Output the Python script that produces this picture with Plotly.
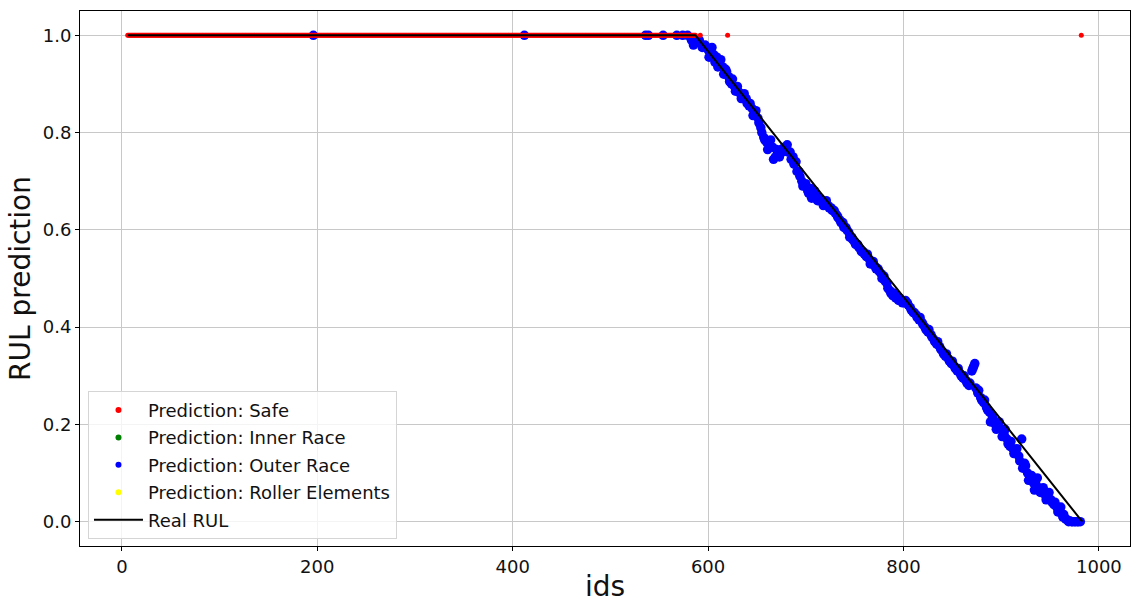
import plotly.graph_objects as go

# Sample ids where the model predicts "Outer Race" while RUL is still 1.0
outer_flat_ids = [196, 412, 536, 539, 554, 568, 574, 579]

# "Safe" predictions (all at RUL 1.0): consecutive ids of the healthy phase plus late outliers
safe_extra_ids = [592, 620, 982]
safe_ids = [i for i in range(6, 588) if i not in outer_flat_ids] + safe_extra_ids
safe_vals = [1.0] * len(safe_ids)

# "Outer Race" predictions during degradation (first pass of ids)
outer_deg_ids = [
    583, 585, 588, 591, 594, 597, 600, 603, 606, 609, 612, 615, 618, 621, 624, 627,
    630, 633, 636, 639, 642, 645, 648, 651, 654, 657, 660, 663, 666, 669, 672, 675,
    678, 681, 684, 687, 690, 693, 696, 699, 702, 705, 708, 711, 714, 717, 720, 723,
    726, 729, 732, 735, 738, 741, 744, 747, 750, 753, 756, 759, 762, 765, 768, 771,
    774, 777, 780, 783, 786, 789, 792, 795, 798, 801, 804, 807, 810, 813, 816, 819,
    822, 825, 828, 831, 834, 837, 840, 843, 846, 849, 852, 855, 858, 861, 864, 867,
    870, 872, 873, 876, 879, 882, 885, 888, 891, 894, 897, 900, 903, 906, 909, 912,
    915, 918, 921, 924, 927, 930, 933, 936, 939, 942, 945, 948, 951, 954, 957, 960,
    963, 966, 969, 972, 975, 978, 981,
]
outer_deg_vals = [
    0.99, 0.98, 0.985, 0.99, 0.975, 0.98, 0.97, 0.965, 0.96, 0.955, 0.94, 0.935, 0.93, 0.915, 0.90, 0.895,
    0.895, 0.88, 0.87, 0.87, 0.855, 0.85, 0.84, 0.83, 0.81, 0.79, 0.78, 0.775, 0.77, 0.75, 0.76, 0.765,
    0.77, 0.775, 0.76, 0.75, 0.74, 0.72, 0.70, 0.69, 0.68, 0.685, 0.675, 0.67, 0.66, 0.66, 0.655, 0.65,
    0.645, 0.64, 0.63, 0.62, 0.615, 0.605, 0.595, 0.585, 0.575, 0.57, 0.56, 0.555, 0.545, 0.54, 0.53, 0.525,
    0.52, 0.51, 0.505, 0.49, 0.475, 0.465, 0.46, 0.455, 0.455, 0.45, 0.45, 0.44, 0.43, 0.425, 0.415, 0.41,
    0.40, 0.39, 0.385, 0.375, 0.365, 0.36, 0.35, 0.34, 0.335, 0.325, 0.32, 0.31, 0.305, 0.295, 0.29, 0.28,
    0.31, 0.32, 0.325, 0.265, 0.255, 0.245, 0.235, 0.225, 0.215, 0.20, 0.195, 0.19, 0.18, 0.17, 0.155, 0.15,
    0.14, 0.135, 0.17, 0.12, 0.10, 0.09, 0.08, 0.075, 0.065, 0.06, 0.055, 0.05, 0.045, 0.035, 0.03, 0.02,
    0.01, 0.005, 0.0, 0.0, 0.0, 0.0, 0.0,
]

# "Outer Race" predictions during degradation (interleaved ids)
outer_deg_ids_b = [
    601, 604, 607, 610, 613, 616, 619, 622, 625, 628, 631, 634, 637, 640, 643, 646,
    649, 652, 655, 658, 661, 664, 667, 670, 673, 676, 679, 682, 685, 688, 691, 694,
    697, 700, 703, 706, 709, 712, 715, 718, 721, 724, 727, 730, 733, 736, 739, 742,
    745, 748, 751, 754, 757, 760, 763, 766, 769, 772, 775, 778, 781, 784, 787, 790,
    793, 796, 799, 802, 805, 808, 811, 814, 817, 820, 823, 826, 829, 832, 835, 838,
    841, 844, 847, 850, 853, 856, 859, 862, 865, 868, 871, 874, 877, 880, 883, 886,
    889, 892, 895, 898, 901, 904, 907, 910, 913, 916, 919, 922, 925, 928, 931, 934,
    937, 940, 943, 946, 949, 952, 955, 958, 961, 964, 967, 970, 973, 976, 979,
]
outer_deg_vals_b = [
    0.955, 0.975, 0.945, 0.935, 0.95, 0.92, 0.925, 0.905, 0.91, 0.885, 0.885, 0.87, 0.88, 0.86, 0.86, 0.835,
    0.845, 0.82, 0.80, 0.785, 0.765, 0.785, 0.745, 0.765, 0.75, 0.76, 0.765, 0.76, 0.745, 0.735, 0.72, 0.71,
    0.69, 0.695, 0.675, 0.665, 0.68, 0.66, 0.665, 0.65, 0.66, 0.645, 0.64, 0.635, 0.625, 0.615, 0.605, 0.60,
    0.585, 0.58, 0.57, 0.565, 0.555, 0.55, 0.55, 0.53, 0.535, 0.52, 0.515, 0.50, 0.495, 0.48, 0.47, 0.47,
    0.465, 0.46, 0.45, 0.455, 0.445, 0.435, 0.43, 0.42, 0.42, 0.405, 0.395, 0.395, 0.38, 0.37, 0.37, 0.355,
    0.345, 0.345, 0.33, 0.33, 0.315, 0.315, 0.30, 0.30, 0.285, 0.285, 0.315, 0.275, 0.27, 0.25, 0.25, 0.23,
    0.205, 0.21, 0.19, 0.205, 0.175, 0.19, 0.16, 0.165, 0.14, 0.15, 0.125, 0.11, 0.115, 0.085, 0.095, 0.065,
    0.09, 0.06, 0.07, 0.045, 0.06, 0.04, 0.04, 0.02, 0.03, 0.015, 0.005, 0.002, 0.0, 0.0, 0.0,
]

outer_ids = outer_flat_ids + outer_deg_ids + outer_deg_ids_b
outer_vals = [1.0] * len(outer_flat_ids) + outer_deg_vals + outer_deg_vals_b

# Ground-truth RUL: flat at 1.0, then linear decay to 0
real_ids = [6, 587, 983]
real_vals = [1.0, 1.0, 0.0]

legend_entries = [
    ("Prediction: Safe", "red"),
    ("Prediction: Inner Race", "green"),
    ("Prediction: Outer Race", "blue"),
    ("Prediction: Roller Elements", "yellow"),
]

FONT = "DejaVu Sans"
fig = go.Figure()

fig.add_trace(go.Scatter(
    x=outer_ids, y=outer_vals, mode="markers", showlegend=False,
    marker=dict(color="blue", size=9.5, line=dict(width=0)),
))
fig.add_trace(go.Scatter(
    x=safe_ids, y=safe_vals, mode="markers", showlegend=False,
    marker=dict(color="red", size=5, line=dict(width=0)),
))
fig.add_trace(go.Scatter(
    x=real_ids, y=real_vals, mode="lines", name="Real RUL",
    line=dict(color="black", width=2), legendgroup="g5", legendrank=5,
))

for rank, (label, color) in enumerate(legend_entries, start=1):
    fig.add_trace(go.Scatter(
        x=[None], y=[None], mode="markers", name=label,
        marker=dict(color=color, size=6, line=dict(width=0)),
        legendgroup=f"g{rank}", legendrank=rank,
    ))

axis_common = dict(
    showgrid=True, gridcolor="#c8c8c8", gridwidth=1,
    showline=True, mirror=True, linecolor="black", linewidth=1,
    ticks="outside", ticklen=4, tickcolor="black", tickwidth=1,
    zeroline=False, tickfont=dict(family=FONT, size=18, color="#111111"),
)

fig.update_layout(
    width=1131, height=603,
    margin=dict(l=80, r=1, t=11, b=57),
    paper_bgcolor="white", plot_bgcolor="white",
    font=dict(family=FONT, color="#111111"),
    xaxis=dict(
        range=[-42.85, 1031.85], tickvals=[0, 200, 400, 600, 800, 1000],
        title=dict(text="ids", font=dict(family=FONT, size=28), standoff=3),
        **axis_common,
    ),
    yaxis=dict(
        range=[-0.05, 1.05], tickvals=[0.0, 0.2, 0.4, 0.6, 0.8, 1.0],
        tickformat=".1f",
        title=dict(text="RUL prediction", font=dict(family=FONT, size=28), standoff=3),
        **axis_common,
    ),
    legend=dict(
        x=0.0076, y=0.29, xanchor="left", yanchor="top",
        bgcolor="rgba(255,255,255,0.8)", bordercolor="#d5d5d5", borderwidth=1,
        font=dict(family=FONT, size=18, color="#111111"),
        traceorder="grouped", tracegroupgap=1, itemwidth=49,
    ),
)

fig.write_html("out.html")
